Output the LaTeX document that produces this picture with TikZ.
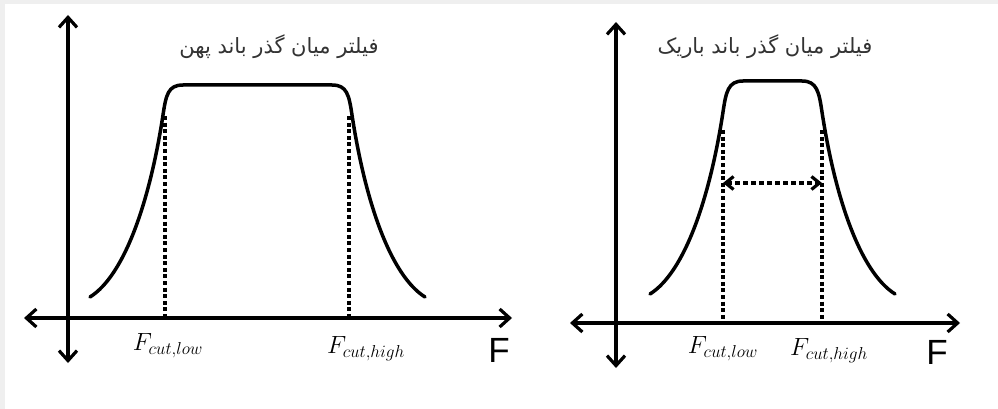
\documentclass[tikz,border=0pt]{standalone}
\usepackage{fontspec}
\usetikzlibrary{arrows.meta}
\newfontfamily\arabicfont[Script=Arabic]{DejaVu Sans}
\newfontfamily\sansF{Liberation Sans}
\TeXXeTstate=1
\definecolor{titlegray}{HTML}{333333}
\definecolor{framegray}{HTML}{EFEFEF}
\begin{document}
\begin{tikzpicture}[x=1pt,y=-1pt,
  barb/.tip={Straight Barb[length=10pt,width=18pt]},
  smallbarb/.tip={Straight Barb[length=8pt,width=13pt]},
  axis/.style={line width=3.2pt,barb-barb},
  curve/.style={line width=3.5pt,line cap=round,line join=round},
  cutline/.style={line width=3.2pt,dash pattern=on 4pt off 2.6pt},
  bwarrow/.style={line width=3.2pt,dash pattern=on 5pt off 3pt,smallbarb-smallbarb},
  title/.style={text=titlegray,font=\arabicfont\fontsize{21}{24}\selectfont,inner sep=0pt},
  flabel/.style={inner sep=0pt,font=\fontsize{26}{30}\selectfont},
  axislabel/.style={inner sep=0pt,font=\sansF\fontsize{35}{40}\selectfont}
]
\useasboundingbox (0,0) rectangle (998,409);
\fill[framegray] (0,0) rectangle (998,409);
\fill[white] (5,4) rectangle (998,409);

% ---------- left panel ----------
\coordinate (LaT) at (68,15);
\coordinate (LaB) at (68,363);
\coordinate (LaL) at (24,318);
\coordinate (LaR) at (512,318);
\draw[axis] (LaB) -- (LaT);
\draw[axis] (LaL) -- (LaR);

\draw[curve] (90,297) .. controls (125,275) and (150,200) .. (163,115)
  .. controls (166,95) and (168,85) .. (183,85) -- (332,85)
  .. controls (347,85) and (349,95) .. (352,115)
  .. controls (365,200) and (390,275) .. (425,297);

\coordinate (LcA) at (165,116);
\coordinate (LcAb) at (165,318);
\coordinate (LcB) at (349,116);
\coordinate (LcBb) at (349,318);
\draw[cutline] (LcA) -- (LcAb);
\draw[cutline] (LcB) -- (LcBb);

\node[title] (Ltitle) at (279,47) {\beginR فیلتر میان گذر باند پهن\endR};
\node[flabel] (Llow) at (168,346) {$F_{cut{,}low}$};
\node[flabel] (Lhigh) at (366,349) {$F_{cut{,}high}$};
\node[axislabel] (LF) at (499,350) {F};

% ---------- right panel ----------
\coordinate (RaT) at (616,22);
\coordinate (RaB) at (616,368);
\coordinate (RaL) at (570,323);
\coordinate (RaR) at (960,323);
\draw[axis] (RaB) -- (RaT);
\draw[axis] (RaL) -- (RaR);

\draw[curve] (650,294) .. controls (685,272) and (710,197) .. (723,112)
  .. controls (726,92) and (728,81) .. (743,81) -- (802,81)
  .. controls (817,81) and (819,92) .. (822,112)
  .. controls (835,197) and (860,272) .. (895,294);

\coordinate (RcA) at (723,130);
\coordinate (RcAb) at (723,323);
\coordinate (RcB) at (822,130);
\coordinate (RcBb) at (822,323);
\draw[cutline] (RcA) -- (RcAb);
\draw[cutline] (RcB) -- (RcBb);

\coordinate (BwL) at (723,183);
\coordinate (BwR) at (822,183);
\draw[bwarrow] (BwL) -- (BwR);

\node[title] (Rtitle) at (765,47) {\beginR فیلتر میان گذر باند باریک\endR};
\node[flabel] (Rlow) at (723,349) {$F_{cut{,}low}$};
\node[flabel] (Rhigh) at (829,351) {$F_{cut{,}high}$};
\node[axislabel] (RF) at (937,352) {F};
\end{tikzpicture}
\end{document}
